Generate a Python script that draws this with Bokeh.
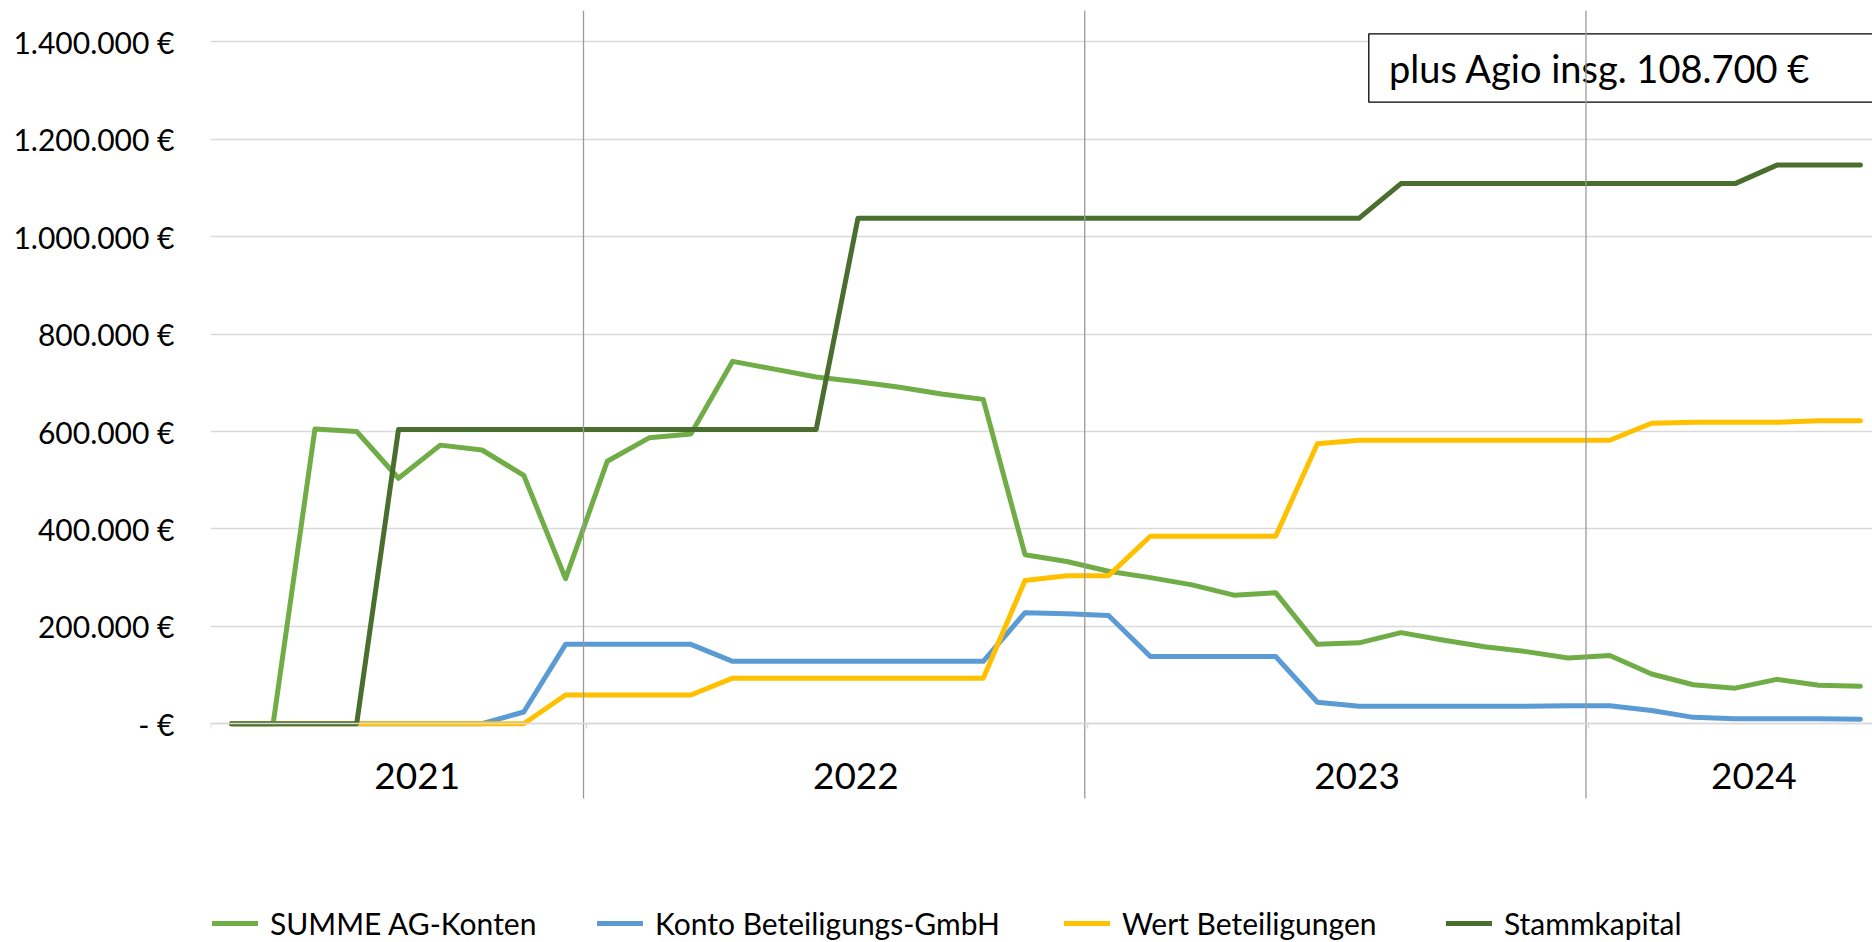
from bokeh.plotting import figure
from bokeh.models import (Range1d, LinearAxis, FixedTicker, Grid, Legend, LegendItem)
from bokeh.core.properties import value
from bokeh.embed import file_html
from bokeh.resources import INLINE

# ---------------- data ----------------
years = ["2021", "2022", "2023", "2024"]
months_per_year = [9, 12, 12, 7]          # Apr 2021 .. Jul 2024

summe_ag_konten = [0, 0, 605000, 600000, 504000, 572000, 562000, 510000, 298000, 539000,
                   587000, 595000, 744000, 728000, 712000, 702000, 691000, 677000, 666000, 347000,
                   333000, 313000, 300000, 285000, 264000, 269000, 163000, 166000, 187000, 172000,
                   158000, 148000, 135000, 140000, 102000, 80000, 73000, 91000, 79000, 77000]
konto_beteiligungs_gmbh = [0, 0, 0, 0, 0, 0, 0, 24000, 163000, 163000,
                           163000, 163000, 128000, 128000, 128000, 128000, 128000, 128000, 128000, 228000,
                           226000, 222000, 138000, 138000, 138000, 138000, 44000, 36000, 36000, 36000,
                           36000, 36000, 37000, 37000, 27000, 13000, 10000, 10000, 10000, 9000]
wert_beteiligungen = [0, 0, 0, 0, 0, 0, 0, 0, 59000, 59000,
                      59000, 59000, 93500, 93500, 93500, 93500, 93500, 93500, 93500, 294000,
                      304000, 304000, 385000, 385000, 385000, 385000, 575000, 582000, 582000, 582000,
                      582000, 582000, 582000, 582000, 617000, 619000, 619000, 619000, 622000, 622000]
stammkapital = [0, 0, 0, 0, 604000, 604000, 604000, 604000, 604000, 604000,
                604000, 604000, 604000, 604000, 604000, 1038000, 1038000, 1038000, 1038000, 1038000,
                1038000, 1038000, 1038000, 1038000, 1038000, 1038000, 1038000, 1038000, 1109000, 1109000,
                1109000, 1109000, 1109000, 1109000, 1109000, 1109000, 1109000, 1147000, 1147000, 1147000]

series_names = ["SUMME AG-Konten", "Konto Beteiligungs-GmbH", "Wert Beteiligungen", "Stammkapital"]
y_ticks = [0, 200000, 400000, 600000, 800000, 1000000, 1200000, 1400000]
y_tick_labels = ["- €", "200.000 €", "400.000 €", "600.000 €", "800.000 €",
                 "1.000.000 €", "1.200.000 €", "1.400.000 €"]
note_text = "plus Agio insg. 108.700 €"

# ---------------- derived positions ----------------
n = sum(months_per_year)
xs = [i + 0.5 for i in range(n)]
bounds = [0]
for c in months_per_year:
    bounds.append(bounds[-1] + c)
year_centers = [(bounds[i] + bounds[i + 1]) / 2 + 0.45 for i in range(len(years))]
separators = [b - 0.07 for b in bounds[1:-1]]

# ---------------- geometry / style (canvas pixels) ----------------
W, H = 1872, 942
FRAME_LEFT, FRAME_TOP = 210, 10
PX_PER_UNIT = 41.77
PX_PER_EUR = 97.4 / 200000
ZERO_Y = 723.2


def y_at(py):
    """data value at a canvas row"""
    return (ZERO_Y - py) / PX_PER_EUR


def x_at(px):
    return (px - FRAME_LEFT) / PX_PER_UNIT


y_end = y_at(FRAME_TOP)
y_start = y_at(H)
x_end = x_at(W)

FONT = "Lato"
COLORS = ["#70AD47", "#5B9BD5", "#FFC000", "#4A6E2D"]
GRID = "#D9D9D9"

p = figure(width=W, height=H, output_backend="svg", toolbar_location=None,
           x_axis_type=None, y_axis_type=None,
           x_range=Range1d(0, x_end), y_range=Range1d(y_start, y_end),
           min_border_left=FRAME_LEFT, min_border_right=0,
           min_border_top=FRAME_TOP, min_border_bottom=0)
p.outline_line_color = None
p.background_fill_color = "white"
p.border_fill_color = "white"

# y axis
yticker = FixedTicker(ticks=y_ticks)
yaxis = LinearAxis(ticker=yticker)
yaxis.major_label_overrides = {t: l for t, l in zip(y_ticks, y_tick_labels)}
yaxis.axis_line_color = None
yaxis.major_tick_line_color = None
yaxis.major_tick_out = 0
yaxis.major_tick_in = 0
yaxis.minor_tick_line_color = None
yaxis.major_label_text_font = FONT
yaxis.major_label_text_font_size = "30px"
yaxis.major_label_text_color = "black"
yaxis.major_label_standoff = 36
p.add_layout(yaxis, "left")
p.add_layout(Grid(dimension=1, ticker=yticker, grid_line_color=GRID, grid_line_width=1.5))

# x axis (fixed at zero)
xticker = FixedTicker(ticks=year_centers, minor_ticks=bounds)
xaxis = LinearAxis(ticker=xticker, fixed_location=0)
xaxis.major_label_overrides = {c: y for c, y in zip(year_centers, years)}
xaxis.axis_line_color = GRID
xaxis.axis_line_width = 1.5
xaxis.major_tick_line_color = None
xaxis.major_tick_out = 0
xaxis.major_tick_in = 0
xaxis.minor_tick_line_color = GRID
xaxis.minor_tick_line_width = 1.5
xaxis.minor_tick_out = 5
xaxis.minor_tick_in = 0
xaxis.major_label_text_font = FONT
xaxis.major_label_text_font_size = "37px"
xaxis.major_label_text_color = "black"
xaxis.major_label_standoff = 34
p.add_layout(xaxis, "below")

# series
renderers = []
for ys, col in zip([summe_ag_konten, konto_beteiligungs_gmbh, wert_beteiligungen, stammkapital], COLORS):
    r = p.line(xs, ys, line_color=col, line_width=5, line_join="round", line_cap="round")
    renderers.append(r)

# note box
p.quad(left=[x_at(1368.3)], right=[x_end + 2], top=[y_at(33.3)], bottom=[y_at(101.7)],
       fill_color="white", line_color="black", line_width=1.3)
p.text(x=[x_at(1388.5)], y=[y_at(67.5)], text=[note_text],
       text_font=value(FONT), text_font_size="38px", text_color="black",
       text_baseline="middle", text_align="left")

# year separators
p.segment(x0=separators, y0=[y_at(798)] * len(separators),
          x1=separators, y1=[y_end] * len(separators),
          line_color="#9A9A9A", line_width=1.3)

# legends
legend_x = [2, 387, 854, 1236]
for name, r, lx in zip(series_names, renderers, legend_x):
    lg = Legend(items=[LegendItem(label=name, renderers=[r])], location=(lx, 1),
                orientation="horizontal", border_line_color=None, background_fill_alpha=0,
                padding=0, margin=0, spacing=0, glyph_width=46, glyph_height=30,
                label_height=30, label_standoff=12, label_text_font=FONT,
                label_text_font_size="30px", label_text_color="black")
    p.add_layout(lg)

open("out.html", "w").write(file_html(p, INLINE))
